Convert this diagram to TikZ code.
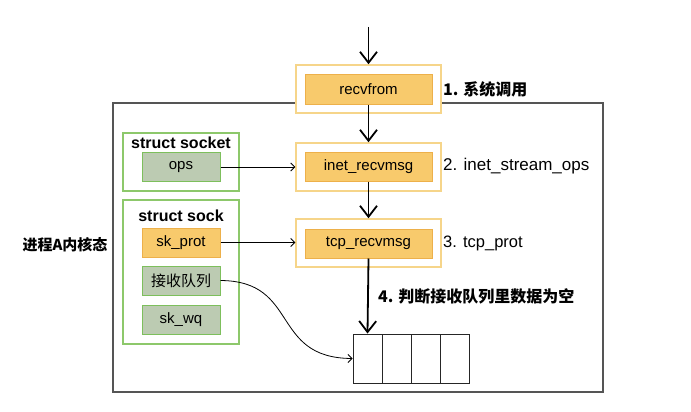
\documentclass[tikz,border=0pt]{standalone}
\usepackage{fontspec}
\setmainfont{Liberation Sans}
\newfontfamily\cjk{Noto Sans CJK SC}
\usetikzlibrary{arrows.meta}
\definecolor{yfill}{HTML}{F8CA6C}
\definecolor{yedge}{HTML}{EDB04A}
\definecolor{yout}{HTML}{F6D58A}
\definecolor{gedge}{HTML}{8DC86B}
\definecolor{gfill}{HTML}{BCCBB2}
\definecolor{gin}{HTML}{7DBF5C}
\definecolor{frame}{HTML}{555555}
\tikzset{
  outerbox/.style={draw=yout,line width=1.5pt,fill=white,minimum width=145pt,minimum height=48pt,inner sep=0pt},
  innerbox/.style={draw=yedge,line width=1pt,fill=yfill,minimum width=127pt,minimum height=29pt,inner sep=0pt,font=\fontsize{15}{15}\selectfont},
  gbox/.style={draw=gedge,line width=1.2pt,fill=white,minimum width=116pt,inner sep=0pt},
  gitem/.style={draw=gin,line width=1pt,fill=gfill,minimum width=78pt,minimum height=29pt,inner sep=0pt,font=\fontsize{15}{15}\selectfont},
  yitem/.style={draw=yedge,line width=1pt,fill=yfill,minimum width=78pt,minimum height=29pt,inner sep=0pt,font=\fontsize{15}{15}\selectfont},
  bigarrow/.style={line width=1.8pt,-{Straight Barb[length=11pt,width=17pt,line width=1.8pt]}},
  thinarrow/.style={line width=0.8pt,-{Straight Barb[length=4pt,width=8pt,line width=0.8pt]}},
  lbl/.style={anchor=west,inner sep=0pt,font=\fontsize{16}{16}\selectfont\bfseries},
  cell/.style={draw=black!85,line width=0.9pt,minimum width=29pt,minimum height=49pt,inner sep=0pt},
  title/.style={inner sep=0pt,font=\fontsize{16}{16}\selectfont\bfseries}
}
\begin{document}
\begin{tikzpicture}[x=1pt,y=-1pt]
\useasboundingbox (0,0) rectangle (691,412);
% kernel frame
\draw[frame,line width=1.2pt] (113,103) rectangle (603,392);
\node[inner sep=0pt,font=\cjk\fontsize{15}{15}\selectfont\bfseries] (kern) at (65,245) {进程A内核态};
% call chain
\coordinate (top) at (368.5,27);
\node[outerbox] (o1) at (368.5,89) {};
\node[innerbox] (recv) at (368.5,89.5) {recvfrom};
\node[outerbox] (o2) at (368.5,167) {};
\node[innerbox] (inet) at (368.5,166.5) {inet\_recvmsg};
\node[outerbox] (o3) at (368.5,243) {};
\node[innerbox] (tcp) at (368.5,243.5) {tcp\_recvmsg};
\node[lbl,font=\cjk\fontsize{16}{16}\selectfont\bfseries] (l1) at (443,89) {1. 系统调用};
\node[lbl,font=\fontsize{17}{17}\selectfont] (l2) at (443,166) {2. inet\_stream\_ops};
\node[lbl,font=\fontsize{16.5}{16.5}\selectfont] (l3) at (443,243) {3. tcp\_prot};
\node[lbl,font=\cjk\fontsize{16}{16}\selectfont\bfseries] (l4) at (378,296) {4. 判断接收队列里数据为空};
% structs
\node[gbox,minimum height=58pt] (sock) at (181,162) {};
\node[title] (t1) at (181,143) {struct socket};
\node[gitem] (ops) at (181,167) {ops};
\node[gbox,minimum height=144pt] (sk) at (181,272) {};
\node[title] (t2) at (181,216) {struct sock};
\node[yitem] (skprot) at (181,242.5) {sk\_prot};
\node[gitem,font=\cjk\fontsize{15}{15}\selectfont] (rq) at (181,280.5) {接收队列};
\node[gitem] (skwq) at (181,319.5) {sk\_wq};
% queue
\node[cell] (c1) at (367.5,358.5) {};
\node[cell] (c2) at (396.5,358.5) {};
\node[cell] (c3) at (425.5,358.5) {};
\node[cell] (c4) at (454.5,358.5) {};
% arrows
\draw[bigarrow] (top) -- (o1.north);
\draw[bigarrow] (recv.south) -- (o2.north);
\draw[bigarrow] (inet.south) -- (o3.north);
\draw[bigarrow] (tcp.south) -- (c1.north);
\draw[thinarrow] (ops.east) -- (o2.west |- ops.east);
\draw[thinarrow] (skprot.east) -- (o3.west |- skprot.east);
\draw[thinarrow] (rq.east) .. controls (300,281) and (270,358) .. (c1.west);
\end{tikzpicture}
\end{document}
